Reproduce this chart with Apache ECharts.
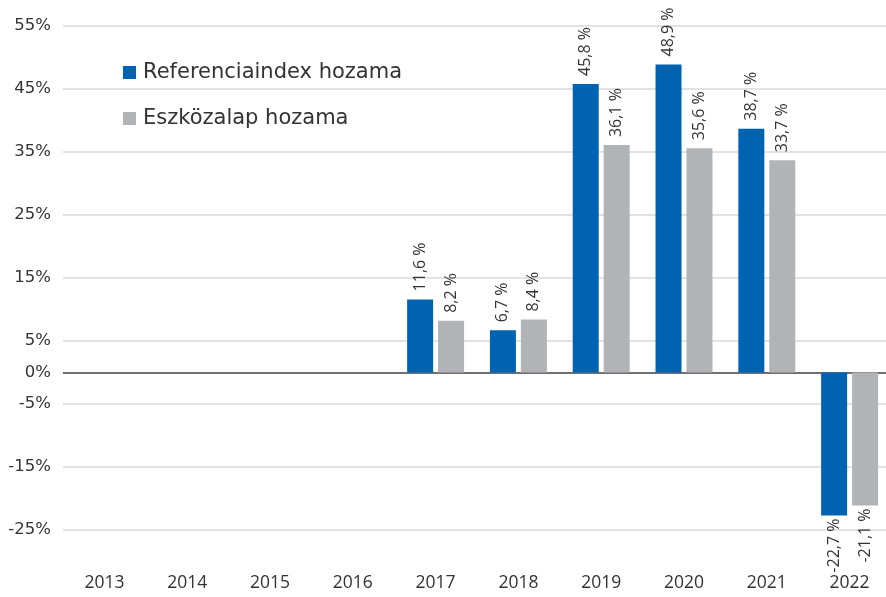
<!DOCTYPE html>
<html>
<head>
<meta charset="utf-8">
<script src="https://cdn.jsdelivr.net/npm/echarts@6/dist/echarts.min.js"></script>
<style>
html,body{margin:0;padding:0;background:#fff;}
#main{width:886px;height:597px;}
</style>
</head>
<body>
<div id="main"></div>
<script>
var categories = ['2013','2014','2015','2016','2017','2018','2019','2020','2021','2022'];
var referenciaindex = [null, null, null, null, 11.6, 6.7, 45.8, 48.9, 38.7, -22.7];
var eszkozalap = [null, null, null, null, 8.2, 8.4, 36.1, 35.6, 33.7, -21.1];
var seriesNames = ['Referenciaindex hozama', 'Eszközalap hozama'];
var yTickLabels = [55, 45, 35, 25, 15, 5, 0, -5, -15, -25];

var yMin = -30, yMax = 55, yInterval = 5;
var gridColors = [];
for (var v = yMin; v <= yMax; v += yInterval) {
  if (v === 0) gridColors.push('#404040');
  else if (yTickLabels.indexOf(v) >= 0) gridColors.push('#d9d9d9');
  else gridColors.push('rgba(0,0,0,0)');
}

function fmt(v) { return v.toFixed(1).replace('.', ',') + ' %'; }

function buildData(arr) {
  return arr.map(function (v) {
    if (v === null) return null;
    if (v < 0) {
      return { value: v, label: { position: 'bottom', align: 'right', distance: 3 } };
    }
    return { value: v };
  });
}

var labelBase = {
  show: true,
  rotate: 90,
  position: 'top',
  align: 'left',
  verticalAlign: 'middle',
  distance: 8,
  fontFamily: 'Open Sans',
  fontSize: 16,
  color: '#333',
  formatter: function (p) { return fmt(p.value); }
};

var chart = echarts.init(document.getElementById('main'));
chart.setOption({
  animation: false,
  backgroundColor: '#fff',
  grid: { left: 63, width: 828, top: 26, height: 535.5, containLabel: false, outerBoundsMode: 'none' },
  legend: {
    orient: 'vertical',
    left: 118,
    top: 57,
    itemWidth: 13,
    itemHeight: 13,
    itemGap: 25,
    icon: 'rect',
    textStyle: { fontFamily: 'DejaVu Sans', fontSize: 21, color: '#333', padding: [0, 0, 0, 2] },
    data: seriesNames
  },
  xAxis: {
    type: 'category',
    data: categories,
    axisLine: { show: false, onZero: false },
    axisTick: { show: false },
    axisLabel: { fontFamily: 'Open Sans', fontSize: 17.5, color: '#333', margin: 13 }
  },
  yAxis: {
    type: 'value',
    min: yMin,
    max: yMax,
    interval: yInterval,
    axisLine: { show: false },
    axisTick: { show: false },
    axisLabel: {
      fontFamily: 'DejaVu Sans',
      fontSize: 16.5,
      color: '#333',
      margin: 12,
      formatter: function (v) { return yTickLabels.indexOf(v) >= 0 ? v + '%' : ''; }
    },
    splitLine: { show: true, lineStyle: { color: gridColors, width: 1.5 } }
  },
  series: [
    {
      name: seriesNames[0],
      type: 'bar',
      data: buildData(referenciaindex),
      barWidth: 26,
      barGap: '19%',
      itemStyle: { color: '#0063b1' },
      label: labelBase
    },
    {
      name: seriesNames[1],
      type: 'bar',
      data: buildData(eszkozalap),
      barWidth: 26,
      barGap: '19%',
      itemStyle: { color: '#b1b3b6' },
      label: labelBase
    }
  ]
});
</script>
</body>
</html>
